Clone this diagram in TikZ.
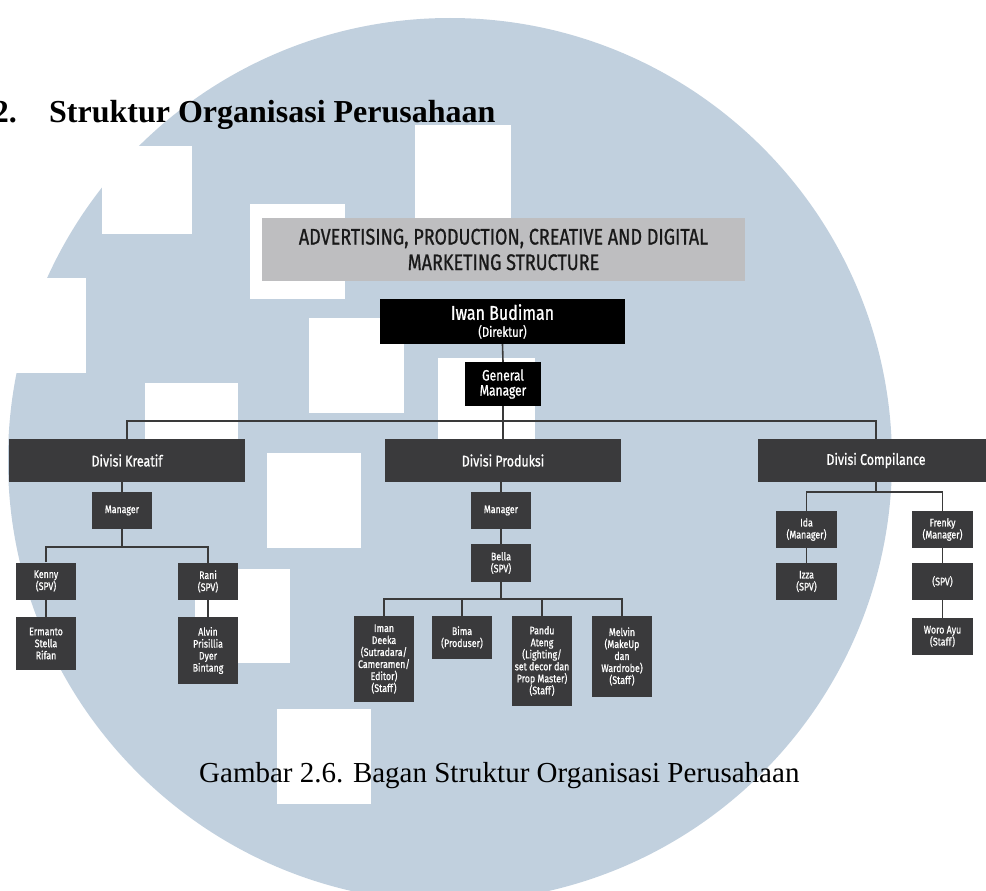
\documentclass[tikz,border=0pt]{standalone}
\usepackage{fontspec}
\setmainfont{Liberation Serif}
\setsansfont{Fira Sans}[FakeStretch=0.8, FakeBold=0.8]
\definecolor{circ}{HTML}{C1D0DE}
\definecolor{dbox}{HTML}{3A3A3C}
\definecolor{gbox}{HTML}{BEBEC0}
\definecolor{lcol}{HTML}{3A3A3A}
\tikzset{
  wrect/.style={fill=white},
  darkbox/.style={fill=dbox, text=white, inner sep=0pt, align=center,
    minimum width=60pt, font=\sffamily\fontsize{11}{12}\selectfont},
  divbox/.style={fill=dbox, text=white, inner sep=0pt, align=center,
    minimum width=236pt, minimum height=43pt, font=\sffamily\fontsize{15.5}{17}\selectfont},
  blackbox/.style={fill=black, text=white, inner sep=0pt, align=center},
  conn/.style={draw=lcol, line width=1.6pt}
}
\begin{document}
\begin{tikzpicture}[x=1pt,y=-1pt]
\useasboundingbox (0,0) rectangle (986,891);
\clip (0,0) rectangle (986,891);
% background watermark
\fill[circ] (450,460) circle[radius=442];
\fill[wrect] (102,146) rectangle (192,234);
\fill[wrect] (415,125) rectangle (511,230);
\fill[wrect] (250,204) rectangle (345,299);
\fill[wrect] (0,278) rectangle (86,373);
\fill[wrect] (309,318) rectangle (404,413);
\fill[wrect] (438,358) rectangle (535,445);
\fill[wrect] (145,383) rectangle (238,445);
\fill[wrect] (267,453) rectangle (361,548);
\fill[wrect] (195,569) rectangle (290,663);
\fill[wrect] (277,709) rectangle (371,804);
% heading
\node[anchor=base east, inner sep=0pt, font=\bfseries\fontsize{32}{38}\selectfont] (hnum) at (17,122) {2.};
\node[anchor=base west, inner sep=0pt, font=\bfseries\fontsize{32}{38}\selectfont] (htitle) at (49,122) {Struktur Organisasi Perusahaan};
% title box
\node[fill=gbox, text=black!90, inner sep=0pt, align=center, minimum width=483pt, minimum height=63pt,
  font=\sffamily\fontsize{22.5}{25.5}\selectfont] (title) at (503.5,249.5)
  {ADVERTISING, PRODUCTION, CREATIVE AND DIGITAL\\MARKETING STRUCTURE};
% director and GM
\node[blackbox, minimum width=245pt, minimum height=45pt, font=\sffamily\fontsize{14}{17}\selectfont] (iwan) at (502.5,321.5)
  {{\fontsize{20}{20}\selectfont Iwan Budiman}\\(Direktur)};
\node[blackbox, minimum width=76pt, minimum height=44pt, font=\sffamily\fontsize{15}{15}\selectfont] (gm) at (503,384)
  {General\\Manager};
% divisions
\node[divbox] (kreatif) at (127,460.5) {Divisi Kreatif};
\node[divbox] (produksi) at (503,460.5) {Divisi Produksi};
\node[divbox] (compl) at (876,460.5) {Divisi Compilance};
% Kreatif
\node[darkbox, minimum height=37pt] (kman) at (122,510.5) {Manager};
\node[darkbox, minimum height=37pt] (kenny) at (46,581) {Kenny\\(SPV)};
\node[darkbox, minimum height=37pt] (rani) at (208,581.5) {Rani\\(SPV)};
\node[darkbox, minimum height=53pt] (ermanto) at (46,643.5) {Ermanto\\Stella\\Rifan};
\node[darkbox, minimum height=67pt] (alvin) at (208,650.5) {Alvin\\Prisillia\\Dyer\\Bintang};
% Produksi
\node[darkbox, minimum height=37pt] (pman) at (501,510.5) {Manager};
\node[darkbox, minimum height=38pt] (bella) at (501,563) {Bella\\(SPV)};
\node[darkbox, minimum height=86pt] (iman) at (384,659) {Iman\\Deeka\\(Sutradara/\\Cameramen/\\Editor)\\(Staff)};
\node[darkbox, minimum height=43pt] (bima) at (462,637.5) {Bima\\(Produser)};
\node[darkbox, minimum height=90pt] (pandu) at (542,661) {Pandu\\Ateng\\(Lighting/\\set decor dan\\Prop Master)\\(Staff)};
\node[darkbox, minimum height=81pt] (melvin) at (622,656.5) {Melvin\\(MakeUp\\dan\\Wardrobe)\\(Staff)};
% Compilance
\node[darkbox, minimum width=61pt, minimum height=37pt] (ida) at (806.5,529.5) {Ida\\(Manager)};
\node[darkbox, minimum width=61pt, minimum height=37pt] (izza) at (806.5,581.5) {Izza\\(SPV)};
\node[darkbox, minimum width=61pt, minimum height=37pt] (frenky) at (942.5,529.5) {Frenky\\(Manager)};
\node[darkbox, minimum width=61pt, minimum height=37pt] (spv) at (942.5,581.5) {(SPV)};
\node[darkbox, minimum width=61pt, minimum height=37pt] (woro) at (942.5,636.5) {Woro Ayu\\(Staff)};
% caption
\node[anchor=base west, inner sep=0pt, font=\fontsize{29}{34}\selectfont] (cap) at (199,782)
  {Gambar 2.6. Bagan Struktur Organisasi Perusahaan};
% bus levels
\coordinate (b1) at (0,421);
\coordinate (b2) at (0,547);
\coordinate (b3) at (0,599);
\coordinate (b4) at (0,492);
% connectors
\draw[conn] (iwan.south) -- (gm.north);
\draw[conn] (gm.south) -- (gm.south |- b1);
\draw[conn] (kreatif.north) -- (kreatif.north |- b1) -- (compl.north |- b1) -- (compl.north);
\draw[conn] (produksi.north) -- (produksi.north |- b1);
% Kreatif tree
\draw[conn] (kreatif.south -| kman.north) -- (kman.north);
\draw[conn] (kman.south) -- (kman.south |- b2);
\draw[conn] (kenny.north) -- (kenny.north |- b2) -- (rani.north |- b2) -- (rani.north);
\draw[conn] (kenny.south) -- (ermanto.north);
\draw[conn] (rani.south) -- (alvin.north);
% Produksi tree
\draw[conn] (produksi.south -| pman.north) -- (pman.north);
\draw[conn] (pman.south) -- (bella.north);
\draw[conn] (bella.south) -- (bella.south |- b3);
\draw[conn] (iman.north) -- (iman.north |- b3) -- (melvin.north |- b3) -- (melvin.north);
\draw[conn] (bima.north) -- (bima.north |- b3);
\draw[conn] (pandu.north) -- (pandu.north |- b3);
% Compilance tree
\draw[conn] (compl.south) -- (compl.south |- b4);
\draw[conn] (ida.north) -- (ida.north |- b4) -- (frenky.north |- b4) -- (frenky.north);
\draw[conn] (ida.south) -- (izza.north);
\draw[conn] (frenky.south) -- (spv.north);
\draw[conn] (spv.south) -- (woro.north);
\end{tikzpicture}
\end{document}
